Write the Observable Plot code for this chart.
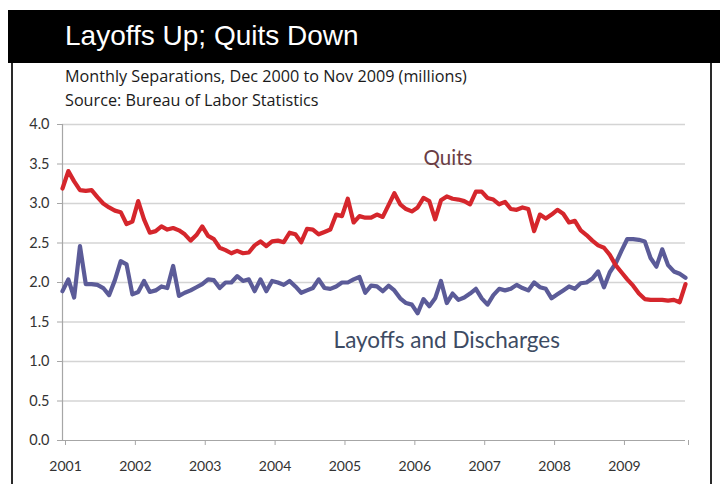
<!DOCTYPE html>
<html>
<head>
<meta charset="utf-8">
<script src="https://cdn.jsdelivr.net/npm/d3@7"></script>
<script src="https://cdn.jsdelivr.net/npm/@observablehq/plot@0.6"></script>
<style>
  html, body { margin: 0; padding: 0; background: #fff; width: 720px; height: 484px; overflow: hidden; }
  #wrap { position: relative; width: 720px; height: 484px; }
  #titlebar { position: absolute; left: 8px; top: 10px; width: 712px; height: 53px; background: #000; }
  #title { position: absolute; left: 65px; top: 20px; margin: 0; color: #fff; font-family: "Liberation Sans", Arial, sans-serif; font-size: 28px; font-weight: normal; line-height: 32px; }
  #panel { position: absolute; left: 11px; top: 63px; width: 697px; height: 440px; border-left: 2px solid #2a2a2a; border-right: 2px solid #2a2a2a; }
  .sub { position: absolute; left: 65px; margin: 0; color: #1a1a1a; font-family: "Open Sans", Lato, sans-serif; font-size: 16.2px; line-height: 18px; }
  #sub1 { top: 67px; }
  #sub2 { top: 91px; }
  #chart { position: absolute; left: 0; top: 0; }
</style>
</head>
<body>
<div id="wrap">
  <div id="titlebar"></div>
  <h1 id="title">Layoffs Up; Quits Down</h1>
  <div id="panel"></div>
  <p class="sub" id="sub1">Monthly Separations, Dec 2000 to Nov 2009 (millions)</p>
  <p class="sub" id="sub2">Source: Bureau of Labor Statistics</p>
  <div id="chart"></div>
</div>
<script>
// Monthly values, Dec 2000 .. Nov 2009 (108 months), millions
const quits = [
  3.19, 3.41, 3.28, 3.17, 3.16, 3.17, 3.08, 3.00, 2.95, 2.91, 2.89, 2.74,
  2.77, 3.03, 2.80, 2.63, 2.65, 2.71, 2.67, 2.69, 2.66, 2.61, 2.53, 2.60,
  2.71, 2.59, 2.55, 2.44, 2.41, 2.37, 2.40, 2.37, 2.38, 2.47, 2.52, 2.46,
  2.52, 2.53, 2.51, 2.63, 2.61, 2.51, 2.68, 2.67, 2.61, 2.64, 2.67, 2.86,
  2.84, 3.06, 2.76, 2.84, 2.82, 2.82, 2.86, 2.83, 2.98, 3.13, 2.99, 2.93,
  2.90, 2.95, 3.07, 3.03, 2.80, 3.04, 3.09, 3.06, 3.05, 3.03, 2.99, 3.15,
  3.15, 3.07, 3.05, 2.99, 3.02, 2.93, 2.92, 2.95, 2.93, 2.65, 2.86, 2.81,
  2.86, 2.92, 2.87, 2.76, 2.78, 2.66, 2.60, 2.53, 2.47, 2.44, 2.35, 2.22,
  2.13, 2.04, 1.96, 1.86, 1.79, 1.78, 1.78, 1.78, 1.77, 1.78, 1.75, 1.98
];
const layoffs = [
  1.89, 2.04, 1.81, 2.46, 1.98, 1.98, 1.97, 1.93, 1.84, 2.03, 2.27, 2.23,
  1.85, 1.88, 2.02, 1.88, 1.90, 1.95, 1.93, 2.21, 1.83, 1.87, 1.90, 1.94,
  1.98, 2.04, 2.03, 1.93, 2.00, 2.00, 2.08, 2.02, 2.04, 1.89, 2.04, 1.89,
  2.02, 2.00, 1.97, 2.02, 1.95, 1.87, 1.90, 1.93, 2.04, 1.93, 1.92, 1.95,
  2.00, 2.00, 2.04, 2.07, 1.87, 1.96, 1.95, 1.89, 1.96, 1.90, 1.80, 1.74,
  1.72, 1.61, 1.79, 1.70, 1.80, 2.02, 1.74, 1.86, 1.78, 1.81, 1.86, 1.92,
  1.80, 1.72, 1.84, 1.92, 1.90, 1.92, 1.97, 1.93, 1.90, 2.00, 1.94, 1.92,
  1.80, 1.85, 1.90, 1.95, 1.92, 1.99, 2.00, 2.05, 2.14, 1.94, 2.13, 2.24,
  2.40, 2.55, 2.55, 2.54, 2.52, 2.31, 2.20, 2.42, 2.22, 2.14, 2.11, 2.06
];
const yearLabels = ["2001", "2002", "2003", "2004", "2005", "2006", "2007", "2008", "2009"];
const yTicks = [0, 0.5, 1.0, 1.5, 2.0, 2.5, 3.0, 3.5, 4.0];
const seriesLabels = [
  {name: "Quits", month: 66.2, value: 3.57, size: 20.5, color: "#6a3d44"},
  {name: "Layoffs and Discharges", month: 66.0, value: 1.26, size: 22.5, color: "#3d4b63"}
];

const lastMonth = quits.length - 1;
const yearTickMonths = yearLabels.map((_, k) => 12 * k);
const allXTicks = [...yearTickMonths, lastMonth];
const quitsData = quits.map((v, i) => ({month: i, value: v}));
const layoffsData = layoffs.map((v, i) => ({month: i, value: v}));

const chart = Plot.plot({
  width: 720,
  height: 484,
  marginTop: 124,
  marginBottom: 44,
  marginLeft: 62,
  marginRight: 35,
  style: {background: "transparent", fontFamily: "Lato, 'Open Sans', sans-serif", color: "#333"},
  x: {type: "linear", domain: [0, lastMonth]},
  y: {domain: [0, 4]},
  marks: [
    Plot.ruleY(yTicks.filter(t => t > 0), {y: d => d, stroke: "#d4d4d4", strokeWidth: 1.6}),
    Plot.ruleY([0], {stroke: "#a6a6a6", strokeWidth: 1.2}),
    Plot.ruleX([0], {y1: 0, y2: 4, stroke: "#a6a6a6", strokeWidth: 1.2}),
    Plot.axisY({ticks: yTicks, tickSize: 5, tickPadding: 8, tickFormat: d3.format(".1f"), stroke: "#a6a6a6", fontSize: 14.5, label: null, fill: "#333"}),
    Plot.axisX({ticks: allXTicks, tickSize: 5, tickPadding: 16, stroke: "#a6a6a6", fontSize: 14, label: null, fill: "#333",
      tickFormat: d => { const k = yearTickMonths.indexOf(d); return k >= 0 ? yearLabels[k] : ""; }, dx: 3}),
    Plot.line(layoffsData, {x: "month", y: "value", stroke: "#5b5b98", strokeWidth: 4.2, strokeLinejoin: "round", strokeLinecap: "round"}),
    Plot.line(quitsData, {x: "month", y: "value", stroke: "#d5262c", strokeWidth: 4.2, strokeLinejoin: "round", strokeLinecap: "round"}),
    Plot.text(seriesLabels, {x: "month", y: "value", text: "name", textAnchor: "middle", fontSize: d => d.size, fill: "color"})
  ]
});
document.getElementById("chart").appendChild(chart);
</script>
</body>
</html>
